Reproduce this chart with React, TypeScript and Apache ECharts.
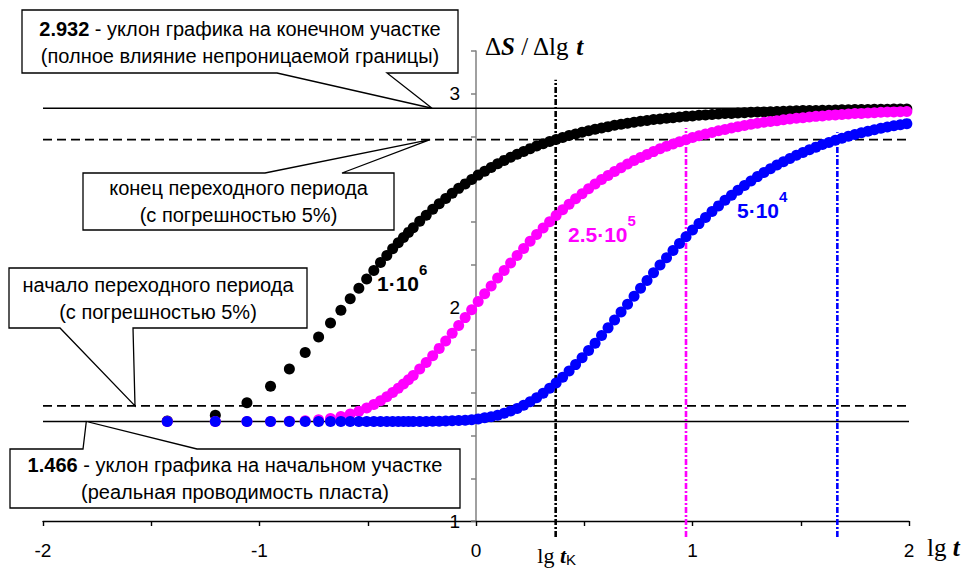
import React, { useEffect, useRef } from "react";
import * as echarts from "echarts";

// lg t positions of the measured points (shared by the three curves)
const lgT = [
  -1.426, -1.204, -1.058, -0.949, -0.862, -0.789, -0.727, -0.672, -0.624, -0.581,
  -0.541, -0.505, -0.472, -0.441, -0.412, -0.385, -0.359, -0.335, -0.312, -0.29,
  -0.26, -0.23, -0.2, -0.17, -0.14, -0.11, -0.08, -0.05, -0.02, 0.01,
  0.04, 0.07, 0.1, 0.13, 0.16, 0.19, 0.22, 0.25, 0.28, 0.31,
  0.34, 0.37, 0.4, 0.43, 0.46, 0.49, 0.52, 0.55, 0.58, 0.61,
  0.64, 0.67, 0.7, 0.73, 0.76, 0.79, 0.82, 0.85, 0.88, 0.91,
  0.94, 0.97, 1.0, 1.03, 1.06, 1.09, 1.12, 1.15, 1.18, 1.21,
  1.24, 1.27, 1.3, 1.33, 1.36, 1.39, 1.42, 1.45, 1.48, 1.51,
  1.54, 1.57, 1.6, 1.63, 1.66, 1.69, 1.72, 1.75, 1.78, 1.81,
  1.84, 1.87, 1.9, 1.93, 1.96, 1.99,
];

// ΔS/Δlg t, parameter 1·10^6 (black)
const yBlack = [
  1.468, 1.495, 1.554, 1.631, 1.711, 1.789, 1.861, 1.927, 1.986, 2.04,
  2.089, 2.133, 2.173, 2.21, 2.243, 2.274, 2.302, 2.327, 2.351, 2.373,
  2.403, 2.431, 2.459, 2.485, 2.51, 2.534, 2.557, 2.578, 2.599, 2.619,
  2.637, 2.655, 2.672, 2.688, 2.703, 2.717, 2.73, 2.743, 2.755, 2.766,
  2.776, 2.786, 2.795, 2.804, 2.812, 2.82, 2.827, 2.834, 2.84, 2.846,
  2.852, 2.857, 2.862, 2.866, 2.871, 2.875, 2.879, 2.882, 2.885, 2.888,
  2.891, 2.894, 2.896, 2.899, 2.901, 2.903, 2.905, 2.907, 2.908, 2.91,
  2.911, 2.913, 2.914, 2.915, 2.916, 2.917, 2.918, 2.919, 2.92, 2.921,
  2.922, 2.922, 2.923, 2.923, 2.924, 2.925, 2.925, 2.926, 2.926, 2.926,
  2.927, 2.927, 2.927, 2.928, 2.928, 2.928,
];

// parameter 2.5·10^5 (magenta)
const yMagenta = [
  1.466, 1.466, 1.466, 1.466, 1.467, 1.469, 1.474, 1.48, 1.489, 1.501,
  1.514, 1.529, 1.545, 1.563, 1.582, 1.601, 1.621, 1.641, 1.661, 1.681,
  1.711, 1.742, 1.774, 1.808, 1.843, 1.879, 1.915, 1.952, 1.989, 2.027,
  2.064, 2.1, 2.137, 2.173, 2.208, 2.243, 2.276, 2.309, 2.341, 2.371,
  2.401, 2.43, 2.457, 2.483, 2.508, 2.532, 2.555, 2.577, 2.598, 2.617,
  2.636, 2.654, 2.671, 2.687, 2.702, 2.716, 2.729, 2.742, 2.754, 2.765,
  2.775, 2.785, 2.795, 2.803, 2.812, 2.819, 2.827, 2.833, 2.84, 2.846,
  2.851, 2.857, 2.862, 2.866, 2.87, 2.874, 2.878, 2.882, 2.885, 2.888,
  2.891, 2.894, 2.896, 2.899, 2.901, 2.903, 2.905, 2.907, 2.908, 2.91,
  2.911, 2.913, 2.914, 2.915, 2.916, 2.917,
];

// parameter 5·10^4 (blue)
const yBlue = [
  1.466, 1.466, 1.466, 1.466, 1.466, 1.466, 1.466, 1.466, 1.466, 1.466,
  1.466, 1.466, 1.466, 1.466, 1.466, 1.466, 1.466, 1.466, 1.466, 1.466,
  1.466, 1.466, 1.467, 1.467, 1.468, 1.469, 1.47, 1.472, 1.474, 1.478,
  1.483, 1.488, 1.495, 1.504, 1.515, 1.527, 1.542, 1.558, 1.577, 1.598,
  1.621, 1.646, 1.673, 1.702, 1.732, 1.764, 1.798, 1.832, 1.868, 1.904,
  1.941, 1.978, 2.015, 2.052, 2.089, 2.126, 2.162, 2.198, 2.232, 2.266,
  2.299, 2.331, 2.362, 2.392, 2.421, 2.449, 2.475, 2.501, 2.525, 2.548,
  2.57, 2.592, 2.612, 2.631, 2.649, 2.666, 2.682, 2.697, 2.712, 2.725,
  2.738, 2.75, 2.762, 2.772, 2.782, 2.792, 2.801, 2.809, 2.817, 2.824,
  2.831, 2.838, 2.844, 2.85, 2.855, 2.86,
];

const curveColors = ["#000000", "#FF00FF", "#0000FF"];
const curveNames = ["1·10", "2.5·10", "5·10"];
const curvePowers = ["6", "5", "4"];

// horizontal reference levels: final slope, 5% below it, 5% above initial, initial slope
const hLevels = [2.932, 2.785, 1.539, 1.466];
const hDashed = [false, true, true, false];

// vertical dash-dot marks (end of transition period for each curve)
const vMarkX = [0.368, 0.97, 1.669];
const vMarkTop = [3.066, 2.84, 2.82];
const vMarkBottom = 0.925;

const SANS = '"Liberation Sans", Arial, sans-serif';
const NARROW = '"Liberation Sans Narrow", "Liberation Sans", Arial, sans-serif';
const SERIF = '"Liberation Serif", "Times New Roman", serif';

export default function App() {
  const ref = useRef<HTMLDivElement>(null);

  useEffect(() => {
    const chart = echarts.init(ref.current!, null, { renderer: "svg" });
    const curves = [yBlack, yMagenta, yBlue];

    const series: any[] = [];
    hLevels.forEach((lv, i) => {
      series.push({
        type: "line",
        data: [[-2, lv], [2, lv]],
        symbol: "none",
        silent: true,
        lineStyle: { color: "#000", width: hDashed[i] ? 1.8 : 1.4, type: hDashed[i] ? [9, 5] : "solid" },
        z: 1,
      });
    });
    vMarkX.forEach((vx, i) => {
      series.push({
        type: "line",
        data: [[vx, vMarkBottom], [vx, vMarkTop[i]]],
        symbol: "none",
        silent: true,
        clip: false,
        lineStyle: { color: curveColors[i], width: 2.6, type: [6, 2, 2, 2] },
        z: 1,
      });
    });
    curves.forEach((ys, i) => {
      series.push({
        type: "scatter",
        data: lgT.map((x, k) => [x, ys[k]]),
        symbol: "circle",
        symbolSize: 11,
        itemStyle: { color: curveColors[i], opacity: 1 },
        silent: true,
        clip: false,
        z: 3 + i,
      });
    });

    const labelFmt = (v: number) => (Math.abs(v - Math.round(v)) < 1e-6 ? String(Math.round(v)) : "");

    const gridLeft = 43;
    const gridRight = 62;
    const gridW = 971 - gridLeft - gridRight;
    const xMin = -2;
    const xMax = 2;

    chart.setOption({
      animation: false,
      backgroundColor: "#ffffff",
      grid: { left: gridLeft, right: gridRight, top: 51, bottom: 49, containLabel: false, outerBoundsMode: "none" },
      xAxis: {
        type: "value",
        min: xMin,
        max: xMax,
        interval: 0.5,
        axisLine: { show: true, onZero: false, lineStyle: { color: "#000", width: 1.4 } },
        axisTick: { show: true, length: 5, lineStyle: { color: "#000", width: 1.4 } },
        splitLine: { show: false },
        axisLabel: { formatter: labelFmt, color: "#000", fontSize: 19, fontFamily: NARROW, margin: 20, showMinLabel: true, showMaxLabel: true },
      },
      yAxis: {
        type: "value",
        min: 1,
        max: 3.2,
        interval: 0.2,
        position: "left",
        // axis is drawn at lg t = 0
        offset: -gridW * ((0 - xMin) / (xMax - xMin)),
        axisLine: { show: true, onZero: false, lineStyle: { color: "#808080", width: 1.5 } },
        axisTick: { show: true, length: 5, lineStyle: { color: "#808080", width: 1.5 } },
        splitLine: { show: false },
        axisLabel: { formatter: labelFmt, color: "#000", fontSize: 19, fontFamily: NARROW, margin: 16, showMinLabel: true, showMaxLabel: true },
      },
      series,
    });

    const px = (p: number[]) => chart.convertToPixel({ gridIndex: 0 }, p) as number[];
    const tip1 = px([-0.203, 2.932]);
    const tip2 = px([-0.212, 2.785]);
    const tip3 = px([-1.575, 1.539]);
    const tip4 = px([-1.8, 1.466]);
    const tk = px([vMarkX[0], 1]);

    const boxStyle = { fill: "#ffffff", stroke: "#000000", lineWidth: 1.3 };
    const txtRich = {
      b: { fontSize: 20, fontFamily: SANS, fontWeight: "bold", fill: "#000", lineHeight: 27 },
      r: { fontSize: 20, fontFamily: SANS, fill: "#000", lineHeight: 27 },
    };
    const boxText = (x: number, y: number, text: string) => ({
      type: "text",
      x,
      y,
      z: 110,
      style: { text, rich: txtRich, textAlign: "center", textVerticalAlign: "middle", align: "center", verticalAlign: "middle" },
    });

    const graphic: any[] = [
      { type: "polygon", z: 100, shape: { points: [[22, 10], [458, 10], [458, 73], [387, 73], tip1, [277, 73], [22, 73]] }, style: boxStyle },
      boxText(240, 42, "{b|2.932}{r| - уклон графика на конечном участке}\n{r|(полное влияние непроницаемой границы)}"),
      { type: "polygon", z: 100, shape: { points: [[83, 173], [265, 173], tip2, [342, 173], [394, 173], [394, 230], [83, 230]] }, style: boxStyle },
      boxText(238.5, 201.5, "{r|конец переходного периода}\n{r|(с погрешностью 5%)}"),
      { type: "polygon", z: 100, shape: { points: [[9, 268], [307, 268], [307, 328], [133, 328], tip3, [60, 328], [9, 328]] }, style: boxStyle },
      boxText(158, 298, "{r|начало переходного периода}\n{r|(с погрешностью 5%)}"),
      { type: "polygon", z: 100, shape: { points: [[10, 449], [83, 449], tip4, [197, 449], [460, 449], [460, 508], [10, 508]] }, style: boxStyle },
      boxText(235, 478.5, "{b|1.466}{r| - уклон графика на начальном участке}\n{r|(реальная проводимость пласта)}"),
    ];

    // curve labels with superscript powers
    const lblPos = [
      [377, 278],
      [568, 229],
      [737, 205],
    ];
    curveNames.forEach((nm, i) => {
      const [x, y] = lblPos[i];
      graphic.push({
        type: "text", x, y, z: 120,
        style: {
          text: `{m|${nm}}{p|${curvePowers[i]}}`,
          rich: {
            m: { fontSize: 21, fontFamily: SANS, fontWeight: "bold", fill: curveColors[i], lineHeight: 32, verticalAlign: "bottom" },
            p: { fontSize: 15, fontFamily: SANS, fontWeight: "bold", fill: curveColors[i], lineHeight: 15, verticalAlign: "top" },
          },
          textAlign: "left", textVerticalAlign: "middle", align: "left", verticalAlign: "middle",
        },
      });
    });

    // axis names
    graphic.push({
      type: "text", x: 485, y: 46, z: 120,
      style: {
        text: "{n|Δ}{s|S}{n| / Δlg }{t|t}",
        rich: {
          n: { fontSize: 25, fontFamily: SERIF, fill: "#000" },
          s: { fontSize: 25, fontFamily: SERIF, fontWeight: "bold", fontStyle: "italic", fill: "#000" },
          t: { fontSize: 25, fontFamily: SERIF, fontWeight: "bold", fontStyle: "italic", fill: "#000" },
        },
        textAlign: "left", textVerticalAlign: "middle", align: "left", verticalAlign: "middle",
      },
    });
    graphic.push({
      type: "text", x: 927, y: 547, z: 120,
      style: {
        text: "{n|lg }{t|t}",
        rich: {
          n: { fontSize: 25, fontFamily: SERIF, fill: "#000" },
          t: { fontSize: 25, fontFamily: SERIF, fontWeight: "bold", fontStyle: "italic", fill: "#000" },
        },
        textAlign: "left", textVerticalAlign: "middle", align: "left", verticalAlign: "middle",
      },
    });
    graphic.push({
      type: "text", x: tk[0] + 1, y: 555, z: 120,
      style: {
        text: "{n|lg }{t|t}{k|K}",
        rich: {
          n: { fontSize: 22, fontFamily: SERIF, fill: "#000", lineHeight: 24 },
          t: { fontSize: 22, fontFamily: SERIF, fontWeight: "bold", fontStyle: "italic", fill: "#000", lineHeight: 24 },
          k: { fontSize: 15, fontFamily: SANS, fill: "#000", lineHeight: 14, verticalAlign: "bottom" },
        },
        textAlign: "center", textVerticalAlign: "middle", align: "center", verticalAlign: "middle",
      },
    });

    chart.setOption({ graphic });

    return () => chart.dispose();
  }, []);

  return (
    <div
      ref={ref}
      style={{ position: "fixed", left: 0, top: 0, width: 971, height: 570, background: "#fff" }}
    />
  );
}
